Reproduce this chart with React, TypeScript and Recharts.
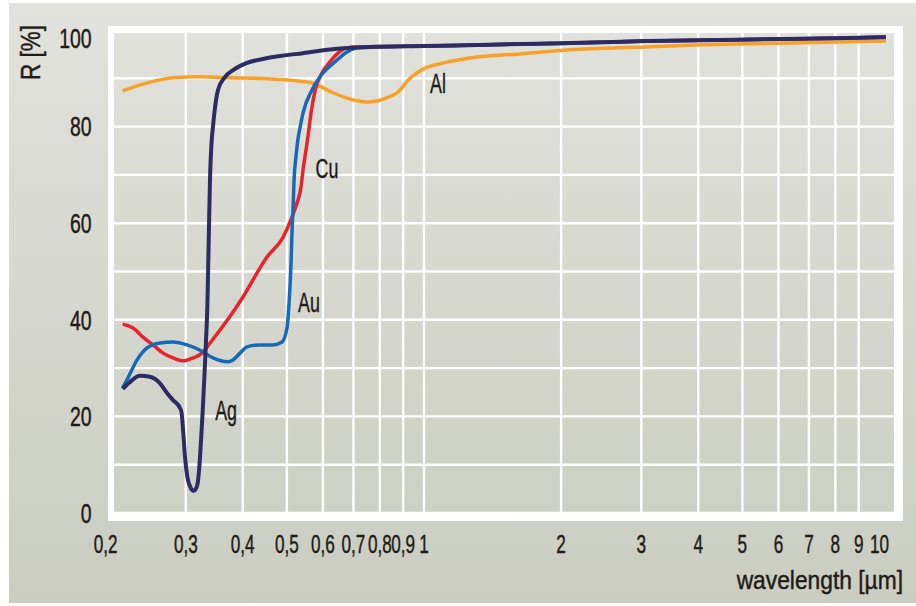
import React from 'react';
import { LineChart, Line, XAxis, YAxis, CartesianGrid, ReferenceLine, ReferenceDot } from 'recharts';

// wavelength [µm], reflectance R [%]
const agPoints: number[][] = [
  [0.218, 25.7], [0.226, 27.1], [0.238, 28.4], [0.25, 28.2], [0.263, 26.9], [0.273, 24.8],
  [0.281, 23.4], [0.2914, 21.7], [0.2937, 20.7], [0.2962, 16.6], [0.2988, 11.6], [0.3023, 7.5],
  [0.3075, 5.2], [0.3127, 4.6], [0.3179, 5.8], [0.3212, 9.5], [0.324, 15.1], [0.3268, 21.3],
  [0.3295, 28.2], [0.3323, 35.8], [0.3345, 42.7], [0.3369, 57], [0.3391, 69.5], [0.3415, 76.3],
  [0.3443, 80.2], [0.3478, 84], [0.3531, 87.6], [0.3659, 90.3], [0.3809, 91.7], [0.4089, 93.2],
  [0.4432, 94.0], [0.483, 94.6], [0.5425, 95.2], [0.6442, 96.1], [0.7614, 96.5], [1.0, 96.7],
  [1.175, 96.8], [2.09, 97.3], [3.09, 97.7], [4.84, 98.0], [8.02, 98.3], [10.33, 98.5],
];

const auPoints: number[][] = [
  [0.218, 25.9], [0.224, 28], [0.2345, 31.7], [0.2466, 34.2], [0.2634, 35.2], [0.2813, 35.4],
  [0.3019, 34.8], [0.3224, 33.7], [0.3443, 32.1], [0.3696, 31.3], [0.3809, 31.7], [0.3946, 33.1],
  [0.4089, 34.4], [0.4365, 34.8], [0.4662, 34.8], [0.488, 35.4], [0.5005, 38.4], [0.5056, 43.5],
  [0.5107, 51.8], [0.5133, 58.6], [0.5159, 63.0], [0.5185, 68.9], [0.5238, 74.0], [0.529, 77.5],
  [0.5344, 79.8], [0.5425, 82.8], [0.5677, 87.6], [0.6001, 91.1], [0.6377, 93.4], [0.6708, 95.2],
  [0.7126, 96.3], [0.7499, 96.5], [1.0, 96.7], [1.175, 96.8], [2.09, 97.3], [3.09, 97.7],
  [4.84, 98.0], [8.02, 98.3], [10.33, 98.5],
];

const cuPoints: number[][] = [
  [0.218, 39.1], [0.2298, 38.3], [0.2416, 36.4], [0.2542, 34.8], [0.2675, 33.1], [0.2813, 32.1],
  [0.2958, 31.5], [0.3112, 32.1], [0.3256, 33.1], [0.3391, 35.2], [0.3567, 37.9], [0.3809, 41.6],
  [0.3966, 44.1], [0.4522, 53], [0.4905, 57.1], [0.5133, 61.3], [0.5264, 64.2], [0.537, 67.5],
  [0.5425, 71], [0.5508, 75.2], [0.5578, 78.8], [0.5649, 82.8], [0.5764, 87.4], [0.5971, 91.1],
  [0.6218, 93.4], [0.6474, 95.2], [0.6776, 96.3], [0.7126, 96.5], [1.0, 96.7], [1.175, 96.8],
  [2.09, 97.3], [3.09, 97.7], [4.84, 98.0], [8.02, 98.3], [10.33, 98.5],
];

const alPoints: number[][] = [
  [0.218, 87.4], [0.2504, 89.2], [0.2813, 90.1], [0.3224, 90.3], [0.3809, 90.1], [0.4522, 89.9],
  [0.5344, 89.4], [0.5706, 89.0], [0.6218, 87.3], [0.6776, 85.9], [0.7499, 85.1], [0.7887, 85.3],
  [0.8295, 86.0], [0.8724, 87.0], [0.9317, 90.0], [1.0, 92.0], [1.084, 93.0], [1.262, 94.2],
  [1.65, 95.1], [2.09, 95.9], [3.07, 96.5], [3.95, 96.9], [4.84, 97.1], [6.33, 97.3],
  [8.02, 97.5], [10.33, 97.7],
];

const xTicks = [0.2, 0.3, 0.4, 0.5, 0.6, 0.7, 0.8, 0.9, 1, 2, 3, 4, 5, 6, 7, 8, 9, 10];
const xGridValues = [0.3, 0.4, 0.5, 0.6, 0.7, 0.8, 0.9, 1, 2, 3, 4, 5, 6, 7, 8, 9];
const yTicks = [0, 10, 20, 30, 40, 50, 60, 70, 80, 90, 100];
const yLabelStep = 20;

const seriesNames = ['Al', 'Cu', 'Au', 'Ag'];
const seriesColors = ['#f7a128', '#e8232b', '#1569ba', '#2e2b63'];
const labelX = [1.073, 0.6124, 0.5592, 0.3677];
const labelY = [89.0, 71.3, 43.6, 21.3];

const toPts = (arr: number[][]) => arr.map(([x, y]) => ({ x, y }));
const seriesData = [toPts(alPoints), toPts(cuPoints), toPts(auPoints), toPts(agPoints)];

const FONT = "'Liberation Sans', Arial, sans-serif";
const TEXT = '#1f1b18';
const TEXT_STROKE = 0.45;

const XTick = (props: any) => {
  const { x, y, payload } = props;
  const s = String(payload.value).replace('.', ',');
  return (
    <g transform={`translate(${x},${y})`}>
      <text transform="scale(0.66,1)" textAnchor="middle" dy="0.71em" fill={TEXT} stroke={TEXT} strokeWidth={TEXT_STROKE} fontSize={26} fontFamily={FONT}>
        {s}
      </text>
    </g>
  );
};

const YTick = (props: any) => {
  const { x, y, payload } = props;
  const v = payload.value as number;
  if (v % yLabelStep !== 0) return <g />;
  return (
    <g transform={`translate(${x},${y + (v === 100 ? 8 : 0)})`}>
      <text transform="scale(0.72,1)" dy="0.36em" textAnchor="end" fill={TEXT} stroke={TEXT} strokeWidth={TEXT_STROKE} fontSize={27} fontFamily={FONT}>
        {v}
      </text>
    </g>
  );
};

const makeLabelShape = (name: string) => (props: any) => {
  const { cx, cy } = props;
  return (
    <g transform={`translate(${cx},${cy})`}>
      <text transform="scale(0.66,1)" textAnchor="middle" dy="0.36em" fill={TEXT} stroke={TEXT} strokeWidth={TEXT_STROKE} fontSize={27} fontFamily={FONT}>
        {name}
      </text>
    </g>
  );
};

export default function App() {
  return (
    <div style={{ position: 'absolute', left: 0, top: 0, width: 916, height: 606, background: '#fff', overflow: 'hidden' }}>
      <div style={{ position: 'absolute', left: 9, top: 3, width: 907, height: 600, background: 'linear-gradient(#e1e2dd, #cacdc0)' }} />
      <div
        style={{
          position: 'absolute', left: 108, top: 26, width: 795, height: 495, boxSizing: 'border-box',
          borderStyle: 'solid', borderColor: '#fff', borderWidth: '7px 9px 8px 6px',
        }}
      />
      <div style={{ position: 'absolute', left: 0, top: 0 }}>
        <LineChart width={916} height={606} margin={{ top: 30, right: 22, bottom: 33, left: 45.6 }}>
          <CartesianGrid horizontal vertical={false} x={114} width={780} stroke="#ffffff" strokeWidth={2.4} />
          {xGridValues.map((v) => (
            <ReferenceLine key={v} x={v} stroke="#ffffff" strokeWidth={2.4} />
          ))}
          <XAxis
            dataKey="x"
            type="number"
            scale="log"
            domain={[0.2, 10.76]}
            ticks={xTicks}
            interval={0}
            axisLine={false}
            tickLine={false}
            tickSize={0}
            tickMargin={22}
            height={60}
            tick={<XTick />}
          />
          <YAxis
            type="number"
            domain={[0, 100]}
            ticks={yTicks}
            interval={0}
            axisLine={false}
            tickLine={false}
            tickSize={6}
            tickMargin={8}
            width={60}
            tick={<YTick />}
          />
          {seriesNames.map((name, i) => (
            <Line
              key={name}
              data={seriesData[i]}
              dataKey="y"
              name={name}
              type="monotone"
              stroke={seriesColors[i]}
              strokeWidth={name === 'Ag' ? 4 : 3.5}
              dot={false}
              activeDot={false}
              isAnimationActive={false}
            />
          ))}
          {seriesNames.map((name, i) => (
            <ReferenceDot
              key={'lab-' + name}
              x={labelX[i]}
              y={labelY[i]}
              r={1}
              shape={makeLabelShape(name)}
            />
          ))}
        </LineChart>
      </div>
      <svg width={916} height={606} style={{ position: 'absolute', left: 0, top: 0, pointerEvents: 'none' }}>
        <g transform="translate(39.5, 52.5) rotate(-90)">
          <text transform="scale(0.83,1)" textAnchor="middle" fill={TEXT} stroke={TEXT} strokeWidth={TEXT_STROKE} fontSize={27} fontFamily={FONT}>
            R [%]
          </text>
        </g>
        <g transform="translate(903, 589)">
          <text transform="scale(0.86,1)" textAnchor="end" fill={TEXT} stroke={TEXT} strokeWidth={TEXT_STROKE} fontSize={26.5} fontFamily={FONT}>
            wavelength [µm]
          </text>
        </g>
      </svg>
    </div>
  );
}
